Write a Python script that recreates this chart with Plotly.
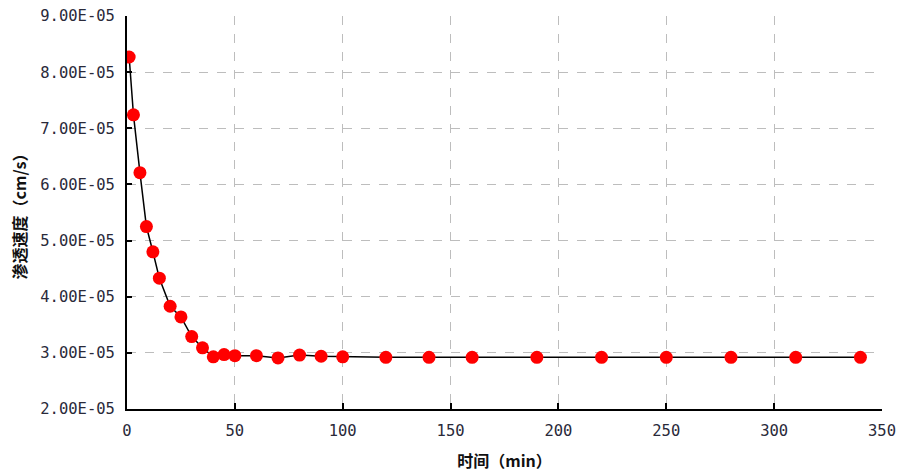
import plotly.graph_objects as go

# Seepage velocity measured over time
time_min = [1, 3, 6, 9, 12, 15, 20, 25, 30, 35, 40, 45, 50, 60, 70, 80, 90, 100,
            120, 140, 160, 190, 220, 250, 280, 310, 340]
velocity = [8.27e-5, 7.24e-5, 6.21e-5, 5.25e-5, 4.80e-5, 4.33e-5, 3.83e-5, 3.64e-5,
            3.29e-5, 3.09e-5, 2.93e-5, 2.97e-5, 2.95e-5, 2.95e-5, 2.91e-5, 2.96e-5,
            2.94e-5, 2.93e-5, 2.92e-5, 2.92e-5, 2.92e-5, 2.92e-5, 2.92e-5, 2.92e-5,
            2.92e-5, 2.92e-5, 2.92e-5]

y_ticks = [2e-5, 3e-5, 4e-5, 5e-5, 6e-5, 7e-5, 8e-5, 9e-5]
y_tick_text = [f"{v:.2E}" for v in y_ticks]
x_ticks = [0, 50, 100, 150, 200, 250, 300, 350]

tick_font = dict(family="DejaVu Sans Mono, monospace", size=15.5, color="#2a2a3a")
title_font = dict(family="Noto Sans CJK SC", size=16, color="#111")

fig = go.Figure(go.Scatter(
    x=time_min, y=velocity, mode="lines+markers",
    line=dict(color="black", width=1.5),
    marker=dict(color="#ff0000", size=13),
))

fig.update_layout(
    width=900, height=472,
    margin=dict(l=127, r=18, t=16, b=63),
    paper_bgcolor="white", plot_bgcolor="white",
    showlegend=False,
)
fig.update_xaxes(
    range=[0, 350], tickvals=x_ticks, tickfont=tick_font, automargin=False,
    showgrid=True, gridcolor="#bdbdbd", gridwidth=1, griddash="dash",
    showline=True, linecolor="black", linewidth=2,
    ticks="inside", ticklen=6, tickcolor="black", tickwidth=1.5,
    ticklabelstandoff=6, zeroline=False,
    title=dict(text="<b>时间（min）</b>", font=title_font, standoff=22),
)
fig.update_yaxes(
    range=[2e-5, 9e-5], tickvals=y_ticks, ticktext=y_tick_text, tickfont=tick_font,
    automargin=False,
    showgrid=True, gridcolor="#bdbdbd", gridwidth=1, griddash="dash",
    showline=True, linecolor="black", linewidth=2,
    ticks="inside", ticklen=5, tickcolor="black", tickwidth=1.5,
    ticklabelstandoff=7, zeroline=False,
    title=dict(text="<b>渗透速度（cm/s）</b>", font=title_font, standoff=10),
)

fig.write_html("out.html")
